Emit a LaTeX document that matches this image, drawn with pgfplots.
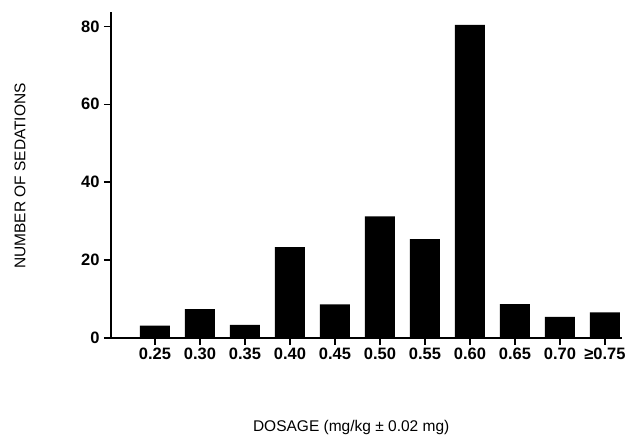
\documentclass[border=0pt]{standalone}
\usepackage{fontspec}
\setmainfont{Liberation Sans}
\usepackage{pgfplots}
\pgfplotsset{compat=1.18}

\begin{document}
\begin{tikzpicture}
\path[use as bounding box] (-111pt,-97pt) rectangle (516pt,338pt);
\begin{axis}[
    at={(0,0)}, anchor=south west,
    scale only axis,
    width=511pt, height=326pt,
    ybar, bar width=30pt, bar shift=0pt,
    xmin=-0.976, xmax=10.38,
    ymin=0, ymax=83.7,
    axis lines*=left,
    axis line style={line width=1.6pt},
    xtick={0,1,2,3,4,5,6,7,8,9,10},
    xticklabels={0.25,0.30,0.35,0.40,0.45,0.50,0.55,0.60,0.65,0.70,≥0.75},
    ytick={0,20,40,60,80},
    tick align=outside,
    major tick length=7pt,
    tick style={line width=1.5pt, black},
    /pgf/number format/assume math mode=true,
    xticklabel style={yshift=1pt, font=\fontsize{16.5}{18}\selectfont\bfseries},
    yticklabel style={xshift=-1pt, font=\fontsize{16.5}{18}\selectfont\bfseries},
    xlabel={DOSAGE (mg/kg ± 0.02 mg)},
    ylabel={NUMBER OF SEDATIONS},
    every axis x label/.style={at={(axis description cs:0.47,0)}, anchor=center,
        yshift=-89pt, font=\fontsize{15.5}{18}\selectfont},
    every axis y label/.style={at={(axis description cs:0,0.497)}, rotate=90, anchor=center,
        yshift=91pt, font=\fontsize{15.5}{18}\selectfont},
]
\addplot[fill=black, draw=none] coordinates {
    (0,3.2) (1,7.4) (2,3.4) (3,23.3) (4,8.6) (5,31.2)
    (6,25.4) (7,80.4) (8,8.7) (9,5.4) (10,6.6)
};
\end{axis}
\end{tikzpicture}
\end{document}
